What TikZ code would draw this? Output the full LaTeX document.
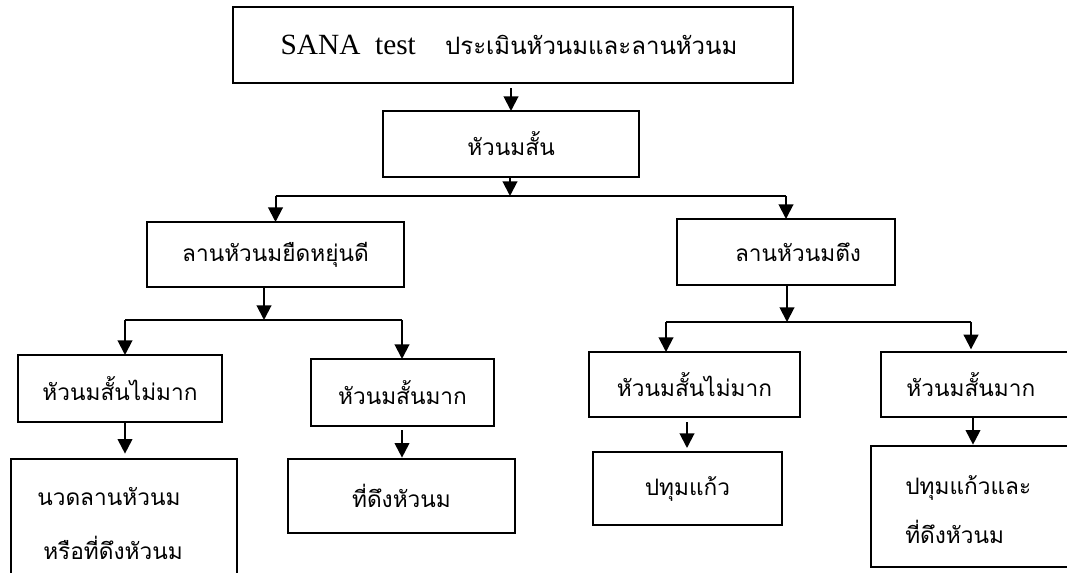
\documentclass[tikz,border=0pt]{standalone}
\usepackage{fontspec}
\setmainfont{Liberation Serif}
\newfontfamily\thaifont[Script=Thai]{Loma}
\usetikzlibrary{arrows.meta}
\begin{document}
\begin{tikzpicture}[x=0.75pt,y=-0.75pt,
  box/.style={draw,line width=1.4pt,inner sep=0pt,outer sep=0pt,anchor=north west,
    font=\thaifont\fontsize{17}{20}\selectfont},
  txt/.style={inner sep=0pt,font=\thaifont\fontsize{17}{20}\selectfont},
  arr/.style={line width=1.5pt,-{Triangle[length=11pt,width=11pt]}},
  ln/.style={line width=1.4pt}]
\clip (0,0) rectangle (1067,573);
\fill[white] (0,0) rectangle (1067,573);
% boxes
\node[box,minimum width=420pt,minimum height=57pt] (T) at (233,7)
  {\hspace{-6pt}\fontsize{22}{26}\selectfont\rmfamily SANA\ \ test\quad{\thaifont\fontsize{18}{22}\selectfont ประเมินหัวนมและลานหัวนม}};
\node[box,minimum width=192pt,minimum height=49.5pt] (S) at (383,111) {หัวนมสั้น};
\node[box,minimum width=192.75pt,minimum height=48.75pt] (L1) at (147,222) {ลานหัวนมยืดหยุ่นดี};
\node[box,minimum width=163.5pt,minimum height=49.5pt] (R1) at (677,219) {\hspace{18pt}ลานหัวนมตึง};
\node[box,minimum width=153pt,minimum height=50.25pt] (LL) at (18,355) {หัวนมสั้นไม่มาก};
\node[box,minimum width=137.25pt,minimum height=50.25pt] (LR) at (311,359) {หัวนมสั้นมาก};
\node[box,minimum width=158.25pt,minimum height=48.75pt] (RL) at (589,352) {หัวนมสั้นไม่มาก};
\node[box,minimum width=156.75pt,minimum height=48.75pt] (RR) at (881,352) {\hspace{-22pt}หัวนมสั้นมาก};
\node[box,minimum width=169.5pt,minimum height=105.75pt] (LLB) at (11,459) {};
\node[box,minimum width=170.25pt,minimum height=55.5pt] (LRB) at (288,459) {ที่ดึงหัวนม};
\node[box,minimum width=141.75pt,minimum height=54.75pt] (RLB) at (593,452) {ปทุมแก้ว};
\node[box,minimum width=164.25pt,minimum height=90.75pt] (RRB) at (871,446) {};
% multi-line texts
\node[txt,anchor=west] (LLB1) at (37,497) {นวดลานหัวนม};
\node[txt,anchor=west] (LLB2) at (43,548) {หรือที่ดึงหัวนม};
\node[txt,anchor=west] (RRB1) at (905,488) {ปทุมแก้วและ};
\node[txt,anchor=west] (RRB2) at (905,532) {ที่ดึงหัวนม};
% junction coordinates
\coordinate (j1) at (510,196);
\coordinate (j2) at (264,320);
\coordinate (j3) at (787,322);
\coordinate (xLL) at (125,0);
\coordinate (xLR) at (402,0);
\coordinate (xRL) at (666,0);
\coordinate (xRR) at (971,0);
% connectors
\draw[arr] ([yshift=-4pt]T.south -| S.north) -- (S.north);
\draw[arr] (S.south -| j1) -- (j1);
\draw[ln] (L1.north |- j1) -- (R1.north |- j1);
\draw[arr] (L1.north |- j1) -- (L1.north);
\draw[arr] (R1.north |- j1) -- (R1.north);
\draw[arr] (L1.south -| j2) -- (j2);
\draw[ln] (xLL |- j2) -- (xLR |- j2);
\draw[arr] (xLL |- j2) -- (LL.north -| xLL);
\draw[arr] (xLR |- j2) -- (LR.north -| xLR);
\draw[arr] (R1.south -| j3) -- (j3);
\draw[ln] (xRL |- j3) -- (xRR |- j3);
\draw[arr] (xRL |- j3) -- (RL.north -| xRL);
\draw[arr] (xRR |- j3) -- ([yshift=2pt]RR.north -| xRR);
\draw[arr] (LL.south -| xLL) -- ([yshift=4pt]LLB.north -| xLL);
\draw[arr] ([yshift=-3pt]LR.south -| xLR) -- ([yshift=1pt]LRB.north -| xLR);
\draw[arr] ([yshift=-4pt]RL.south -| 687,0) -- ([yshift=3pt]RLB.north -| 687,0);
\draw[arr] (RR.south -| 973,0) -- ([yshift=1pt]RRB.north -| 973,0);
\end{tikzpicture}
\end{document}
